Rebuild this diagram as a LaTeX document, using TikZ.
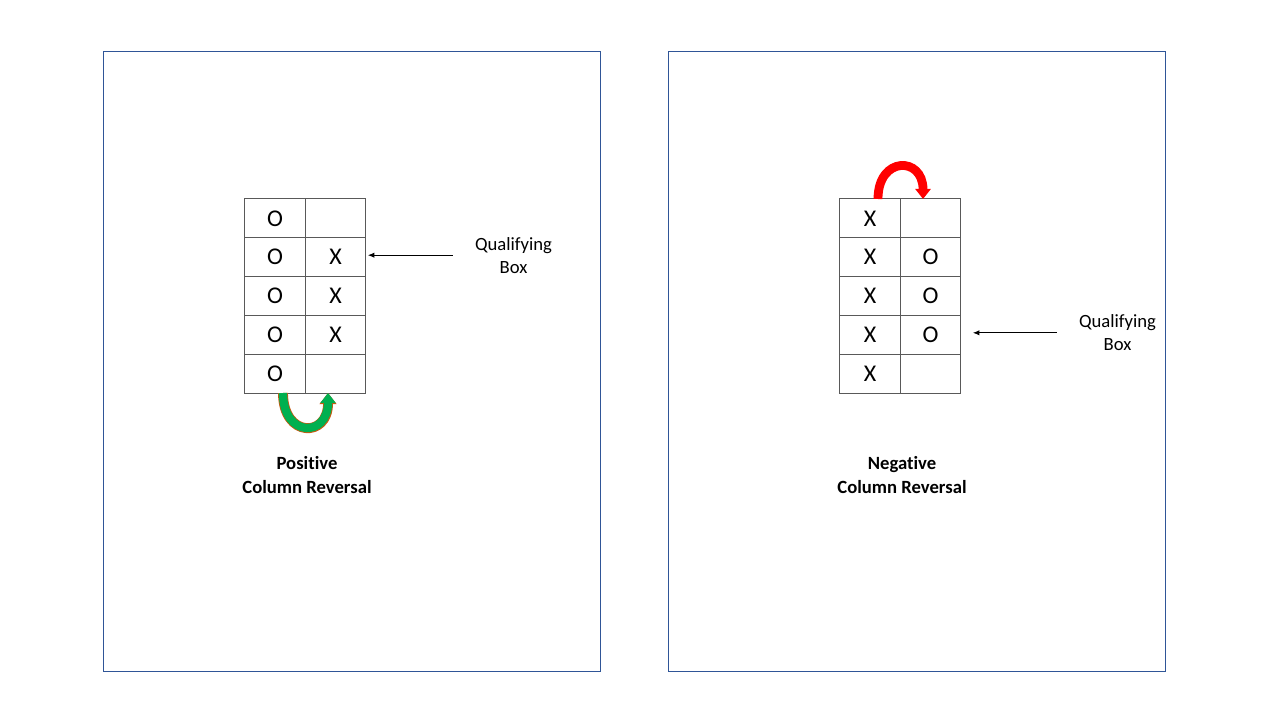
\documentclass[tikz,border=0pt]{standalone}
\usepackage{fontspec}
\setmainfont{Carlito}[Ligatures=NoCommon]
\usetikzlibrary{arrows.meta}
\usetikzlibrary{positioning}
\definecolor{panelblue}{HTML}{2F5597}
\definecolor{gridgray}{HTML}{595959}
\definecolor{okgreen}{HTML}{00B050}
\definecolor{rimorange}{HTML}{C55A11}
\definecolor{arcred}{HTML}{FF0000}
\tikzset{cell/.style = {draw, gridgray, text=black, line width=0.75pt,
                        minimum width=45.4pt, minimum height=29.1pt,
                        inner sep=0, outer sep=0, font=\fontsize{18}{21}\selectfont}}
\tikzset{panel/.style = {draw, panelblue, line width=0.75pt}}
\tikzset{qtext/.style = {align=center, inner sep=0, yshift=1.5pt, font=\fontsize{14}{17.3}\selectfont}}
\tikzset{caption/.style = {align=center, inner sep=0, font=\bfseries\fontsize{14}{17.3}\selectfont}}
\tikzset{qarrow/.style = {-{Latex[length=5pt,width=4pt]}, line width=0.75pt}}
\tikzset{posrim/.style = {-{Triangle[length=8.4pt,width=12.4pt]}, rimorange, line width=7.4pt}}
\tikzset{posarc/.style = {-{Triangle[length=7.4pt,width=11pt]}, okgreen, line width=6.2pt}}
\tikzset{negarc/.style = {-{Triangle[length=7.6pt,width=11.4pt]}, arcred, line width=6.6pt}}

\begin{document}
\begin{tikzpicture}[x=0.75pt, y=-0.75pt]
    \useasboundingbox (0,0) rectangle (1280,720);

    \draw [panel] (103,52) rectangle (600,671);
    \draw [panel] (668,52) rectangle (1165,671);

    % positive column reversal
    \node [cell] (pl1) at (275, 218.4) {O};
    \node [cell] (pr1) at (335.5, 218.4) {};
    \node [cell] (pl2) at (275, 257.2) {O};
    \node [cell] (pr2) at (335.5, 257.2) {X};
    \node [cell] (pl3) at (275, 296) {O};
    \node [cell] (pr3) at (335.5, 296) {X};
    \node [cell] (pl4) at (275, 334.8) {O};
    \node [cell] (pr4) at (335.5, 334.8) {X};
    \node [cell] (pl5) at (275, 373.6) {O};
    \node [cell] (pr5) at (335.5, 373.6) {};

    \node [qtext, right=81.75pt of pr2] (pq) {Qualifying\\Box};
    \node [caption] (pcap) at (307, 475) {Positive\\Column Reversal};

    \draw [qarrow] ([xshift=-16.5pt]pq.west) -- ([xshift=1.5pt, yshift=1.5pt]pr2.east);
    \draw [posrim] ([xshift=6pt]pl5.south) .. controls +(0,45) and +(0,45) .. ([xshift=-5.6pt]pr5.south);
    \draw [posarc] ([xshift=6pt]pl5.south) .. controls +(0,45) and +(0,45) .. ([xshift=-5.6pt]pr5.south);

    % negative column reversal
    \node [cell] (nl1) at (870, 218.4) {X};
    \node [cell] (nr1) at (930.5, 218.4) {};
    \node [cell] (nl2) at (870, 257.2) {X};
    \node [cell] (nr2) at (930.5, 257.2) {O};
    \node [cell] (nl3) at (870, 296) {X};
    \node [cell] (nr3) at (930.5, 296) {O};
    \node [cell] (nl4) at (870, 334.8) {X};
    \node [cell] (nr4) at (930.5, 334.8) {O};
    \node [cell] (nl5) at (870, 373.6) {X};
    \node [cell] (nr5) at (930.5, 373.6) {};

    \node [qtext, right=88.5pt of nr4] (nq) {Qualifying\\Box};
    \node [caption] (ncap) at (902, 475) {Negative\\Column Reversal};

    \draw [qarrow] ([xshift=-16.5pt]nq.west) -- ([xshift=9pt, yshift=1.5pt]nr4.east);
    \draw [negarc] ([xshift=6pt]nl1.north) .. controls +(0,-43) and +(0,-43) .. ([xshift=-5.6pt]nr1.north);
\end{tikzpicture}
\end{document}
